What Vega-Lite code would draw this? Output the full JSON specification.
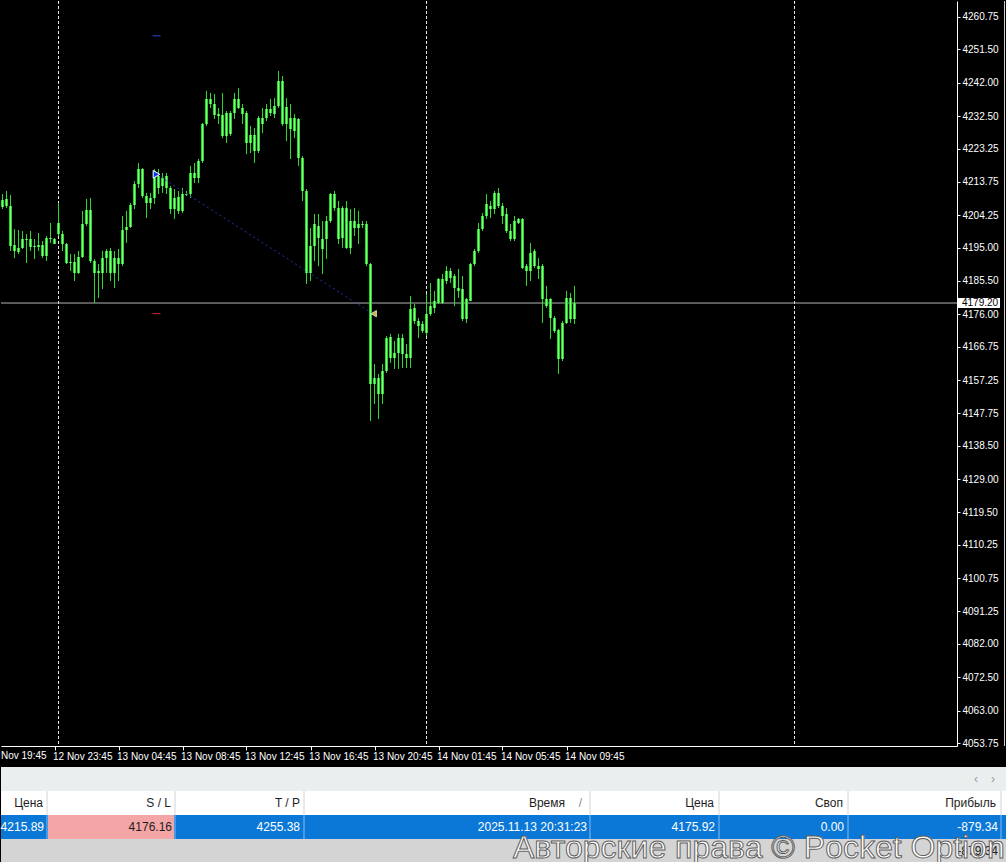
{
  "$schema": "https://vega.github.io/schema/vega-lite/v6.json",
  "background": "#000000",
  "padding": 0,
  "spacing": 6,
  "config": {"view": {"stroke": null}, "font": "Liberation Sans",
    "axis": {"labelFont": "Liberation Sans", "grid": false, "labelColor": "#ffffff", "domainColor": "#ffffff", "tickColor": "#ffffff", "labelFontSize": 10, "labelOverlap": false, "labelBound": false, "labelFlush": false, "labelSeparation": 0}},
  "datasets": {
    "candles": [
      {"bar":0,"o":4208.57,"h":4210.28,"l":4206.01,"c":4206.58},
      {"bar":1,"o":4206.86,"h":4211.14,"l":4206.29,"c":4208.86},
      {"bar":2,"o":4206.86,"h":4210.00,"l":4194.03,"c":4195.46},
      {"bar":3,"o":4195.74,"h":4200.30,"l":4192.03,"c":4194.03},
      {"bar":4,"o":4193.74,"h":4200.02,"l":4193.17,"c":4194.89},
      {"bar":5,"o":4194.89,"h":4199.73,"l":4194.60,"c":4197.45},
      {"bar":6,"o":4197.45,"h":4198.88,"l":4190.61,"c":4197.17},
      {"bar":7,"o":4197.45,"h":4199.73,"l":4194.03,"c":4195.17},
      {"bar":8,"o":4195.46,"h":4197.45,"l":4191.75,"c":4195.17},
      {"bar":9,"o":4195.17,"h":4199.16,"l":4194.03,"c":4195.74},
      {"bar":10,"o":4195.74,"h":4196.88,"l":4192.03,"c":4192.60},
      {"bar":11,"o":4192.60,"h":4198.31,"l":4191.18,"c":4197.74},
      {"bar":12,"o":4197.74,"h":4202.01,"l":4196.31,"c":4197.45},
      {"bar":13,"o":4197.45,"h":4197.74,"l":4196.03,"c":4196.03},
      {"bar":14,"o":4198.88,"h":4207.72,"l":4198.31,"c":4202.01},
      {"bar":15,"o":4198.88,"h":4199.73,"l":4194.03,"c":4196.03},
      {"bar":16,"o":4196.03,"h":4196.31,"l":4190.32,"c":4190.61},
      {"bar":17,"o":4190.89,"h":4193.17,"l":4188.33,"c":4190.61},
      {"bar":18,"o":4190.89,"h":4193.17,"l":4185.48,"c":4187.76},
      {"bar":19,"o":4187.76,"h":4194.03,"l":4187.47,"c":4192.32},
      {"bar":20,"o":4192.32,"h":4205.43,"l":4192.03,"c":4201.73},
      {"bar":21,"o":4201.73,"h":4208.86,"l":4201.16,"c":4205.72},
      {"bar":22,"o":4205.72,"h":4209.14,"l":4190.61,"c":4191.18},
      {"bar":23,"o":4191.18,"h":4191.75,"l":4179.20,"c":4187.76},
      {"bar":24,"o":4187.76,"h":4190.32,"l":4180.63,"c":4188.33},
      {"bar":25,"o":4187.76,"h":4194.03,"l":4183.20,"c":4192.03},
      {"bar":26,"o":4192.03,"h":4194.60,"l":4187.76,"c":4194.03},
      {"bar":27,"o":4194.03,"h":4194.89,"l":4185.48,"c":4187.76},
      {"bar":28,"o":4187.76,"h":4194.03,"l":4183.48,"c":4192.03},
      {"bar":29,"o":4192.03,"h":4194.60,"l":4185.48,"c":4190.32},
      {"bar":30,"o":4190.32,"h":4204.01,"l":4189.75,"c":4200.02},
      {"bar":31,"o":4200.02,"h":4205.43,"l":4196.31,"c":4200.87},
      {"bar":32,"o":4200.87,"h":4207.72,"l":4200.59,"c":4207.15},
      {"bar":33,"o":4207.15,"h":4213.99,"l":4206.01,"c":4213.13},
      {"bar":34,"o":4213.13,"h":4219.12,"l":4211.99,"c":4217.41},
      {"bar":35,"o":4217.41,"h":4217.69,"l":4209.14,"c":4209.71},
      {"bar":36,"o":4209.71,"h":4210.57,"l":4203.44,"c":4207.72},
      {"bar":37,"o":4207.72,"h":4210.57,"l":4206.01,"c":4209.14},
      {"bar":38,"o":4209.14,"h":4217.41,"l":4207.43,"c":4216.84},
      {"bar":39,"o":4215.41,"h":4217.41,"l":4210.28,"c":4211.99},
      {"bar":40,"o":4212.56,"h":4216.27,"l":4210.57,"c":4214.84},
      {"bar":41,"o":4215.41,"h":4216.27,"l":4210.28,"c":4211.99},
      {"bar":42,"o":4211.99,"h":4212.56,"l":4204.58,"c":4206.01},
      {"bar":43,"o":4206.01,"h":4211.71,"l":4203.15,"c":4209.14},
      {"bar":44,"o":4209.43,"h":4211.14,"l":4204.58,"c":4205.43},
      {"bar":45,"o":4205.43,"h":4211.99,"l":4204.86,"c":4210.28},
      {"bar":46,"o":4210.28,"h":4211.14,"l":4209.71,"c":4210.00},
      {"bar":47,"o":4210.28,"h":4218.27,"l":4209.14,"c":4216.27},
      {"bar":48,"o":4216.27,"h":4219.12,"l":4213.42,"c":4214.84},
      {"bar":49,"o":4214.84,"h":4220.26,"l":4213.42,"c":4219.69},
      {"bar":50,"o":4219.69,"h":4230.53,"l":4219.12,"c":4230.24},
      {"bar":51,"o":4230.24,"h":4239.65,"l":4229.67,"c":4237.37},
      {"bar":52,"o":4237.37,"h":4239.08,"l":4234.80,"c":4235.94},
      {"bar":53,"o":4235.94,"h":4238.79,"l":4231.67,"c":4232.81},
      {"bar":54,"o":4233.09,"h":4234.80,"l":4230.24,"c":4232.52},
      {"bar":55,"o":4232.81,"h":4239.08,"l":4226.25,"c":4226.82},
      {"bar":56,"o":4226.82,"h":4233.95,"l":4224.82,"c":4233.38},
      {"bar":57,"o":4233.38,"h":4233.95,"l":4226.82,"c":4227.39},
      {"bar":58,"o":4233.38,"h":4239.08,"l":4231.67,"c":4237.37},
      {"bar":59,"o":4237.37,"h":4240.50,"l":4234.52,"c":4234.80},
      {"bar":60,"o":4234.80,"h":4235.94,"l":4230.24,"c":4233.09},
      {"bar":61,"o":4233.38,"h":4233.95,"l":4221.69,"c":4224.82},
      {"bar":62,"o":4224.82,"h":4229.67,"l":4221.97,"c":4227.10},
      {"bar":63,"o":4227.10,"h":4229.10,"l":4219.12,"c":4222.54},
      {"bar":64,"o":4222.54,"h":4232.52,"l":4221.97,"c":4231.95},
      {"bar":65,"o":4231.95,"h":4234.80,"l":4227.67,"c":4230.24},
      {"bar":66,"o":4231.95,"h":4235.94,"l":4231.10,"c":4234.52},
      {"bar":67,"o":4234.52,"h":4237.37,"l":4232.52,"c":4233.38},
      {"bar":68,"o":4233.09,"h":4237.65,"l":4231.95,"c":4235.37},
      {"bar":69,"o":4235.37,"h":4245.35,"l":4234.80,"c":4242.50},
      {"bar":70,"o":4242.50,"h":4243.93,"l":4229.67,"c":4230.24},
      {"bar":71,"o":4230.24,"h":4237.65,"l":4225.39,"c":4235.09},
      {"bar":72,"o":4231.95,"h":4235.94,"l":4220.26,"c":4228.81},
      {"bar":73,"o":4228.24,"h":4233.09,"l":4226.25,"c":4231.95},
      {"bar":74,"o":4231.67,"h":4231.95,"l":4218.27,"c":4220.55},
      {"bar":75,"o":4220.55,"h":4221.12,"l":4208.29,"c":4211.14},
      {"bar":76,"o":4211.14,"h":4211.71,"l":4184.62,"c":4187.76},
      {"bar":77,"o":4187.76,"h":4200.59,"l":4185.48,"c":4195.46},
      {"bar":78,"o":4195.46,"h":4204.58,"l":4191.18,"c":4201.73},
      {"bar":79,"o":4201.16,"h":4204.58,"l":4189.75,"c":4197.74},
      {"bar":80,"o":4197.45,"h":4202.58,"l":4187.47,"c":4194.60},
      {"bar":81,"o":4197.45,"h":4204.01,"l":4191.75,"c":4202.58},
      {"bar":82,"o":4202.58,"h":4210.57,"l":4202.01,"c":4210.28},
      {"bar":83,"o":4210.28,"h":4211.14,"l":4205.43,"c":4206.29},
      {"bar":84,"o":4206.29,"h":4208.29,"l":4196.03,"c":4197.45},
      {"bar":85,"o":4197.74,"h":4206.86,"l":4194.89,"c":4206.29},
      {"bar":86,"o":4206.29,"h":4208.29,"l":4194.60,"c":4194.89},
      {"bar":87,"o":4194.89,"h":4206.01,"l":4193.17,"c":4202.58},
      {"bar":88,"o":4202.58,"h":4206.29,"l":4198.31,"c":4200.59},
      {"bar":89,"o":4200.59,"h":4205.43,"l":4196.03,"c":4201.73},
      {"bar":90,"o":4201.73,"h":4202.58,"l":4200.59,"c":4201.44},
      {"bar":91,"o":4201.73,"h":4202.58,"l":4189.75,"c":4190.32},
      {"bar":92,"o":4190.32,"h":4190.61,"l":4145.56,"c":4156.11},
      {"bar":93,"o":4156.11,"h":4161.81,"l":4150.41,"c":4157.82},
      {"bar":94,"o":4157.82,"h":4158.96,"l":4146.13,"c":4153.26},
      {"bar":95,"o":4153.26,"h":4161.81,"l":4150.41,"c":4159.82},
      {"bar":96,"o":4159.82,"h":4169.79,"l":4159.25,"c":4169.22},
      {"bar":97,"o":4169.51,"h":4170.37,"l":4162.10,"c":4163.52},
      {"bar":98,"o":4163.52,"h":4168.37,"l":4160.39,"c":4164.95},
      {"bar":99,"o":4164.95,"h":4170.37,"l":4160.39,"c":4169.22},
      {"bar":100,"o":4169.22,"h":4170.37,"l":4160.67,"c":4164.66},
      {"bar":101,"o":4164.66,"h":4167.51,"l":4160.67,"c":4163.52},
      {"bar":102,"o":4163.52,"h":4181.20,"l":4160.67,"c":4177.49},
      {"bar":103,"o":4177.78,"h":4178.92,"l":4173.22,"c":4174.07},
      {"bar":104,"o":4174.07,"h":4174.93,"l":4169.22,"c":4172.65},
      {"bar":105,"o":4173.22,"h":4174.07,"l":4170.65,"c":4171.22},
      {"bar":106,"o":4170.65,"h":4181.77,"l":4169.79,"c":4176.07},
      {"bar":107,"o":4176.07,"h":4184.91,"l":4175.50,"c":4178.35},
      {"bar":108,"o":4177.78,"h":4182.63,"l":4176.35,"c":4179.77},
      {"bar":109,"o":4179.20,"h":4186.33,"l":4178.92,"c":4186.05},
      {"bar":110,"o":4186.05,"h":4187.47,"l":4178.92,"c":4179.20},
      {"bar":111,"o":4185.48,"h":4189.75,"l":4184.62,"c":4188.33},
      {"bar":112,"o":4188.33,"h":4189.18,"l":4184.91,"c":4186.33},
      {"bar":113,"o":4186.90,"h":4187.47,"l":4178.35,"c":4183.48},
      {"bar":114,"o":4183.48,"h":4188.90,"l":4180.63,"c":4182.63},
      {"bar":115,"o":4183.20,"h":4186.90,"l":4174.07,"c":4174.64},
      {"bar":116,"o":4174.64,"h":4180.63,"l":4173.50,"c":4180.34},
      {"bar":117,"o":4179.77,"h":4190.61,"l":4179.77,"c":4190.32},
      {"bar":118,"o":4190.32,"h":4194.60,"l":4189.75,"c":4194.03},
      {"bar":119,"o":4194.03,"h":4202.01,"l":4193.46,"c":4200.30},
      {"bar":120,"o":4200.30,"h":4204.86,"l":4199.73,"c":4204.01},
      {"bar":121,"o":4204.01,"h":4210.28,"l":4203.15,"c":4207.43},
      {"bar":122,"o":4206.86,"h":4208.29,"l":4203.44,"c":4206.01},
      {"bar":123,"o":4206.01,"h":4211.14,"l":4204.58,"c":4210.57},
      {"bar":124,"o":4210.57,"h":4211.99,"l":4206.29,"c":4206.86},
      {"bar":125,"o":4206.86,"h":4207.72,"l":4201.73,"c":4204.01},
      {"bar":126,"o":4204.58,"h":4206.29,"l":4199.16,"c":4199.73},
      {"bar":127,"o":4199.73,"h":4201.73,"l":4196.88,"c":4197.45},
      {"bar":128,"o":4197.45,"h":4204.01,"l":4196.88,"c":4202.58},
      {"bar":129,"o":4202.01,"h":4203.44,"l":4201.73,"c":4203.15},
      {"bar":130,"o":4203.15,"h":4203.44,"l":4188.90,"c":4189.18},
      {"bar":131,"o":4189.75,"h":4190.32,"l":4184.05,"c":4188.33},
      {"bar":132,"o":4188.33,"h":4196.31,"l":4185.48,"c":4193.46},
      {"bar":133,"o":4194.03,"h":4194.60,"l":4189.18,"c":4189.75},
      {"bar":134,"o":4189.75,"h":4192.03,"l":4186.05,"c":4188.90},
      {"bar":135,"o":4189.75,"h":4190.32,"l":4173.50,"c":4180.34},
      {"bar":136,"o":4180.34,"h":4184.05,"l":4177.78,"c":4178.35},
      {"bar":137,"o":4180.34,"h":4180.63,"l":4168.94,"c":4174.93},
      {"bar":138,"o":4174.93,"h":4175.50,"l":4170.65,"c":4171.22},
      {"bar":139,"o":4171.51,"h":4171.79,"l":4158.96,"c":4163.24},
      {"bar":140,"o":4163.24,"h":4174.07,"l":4162.67,"c":4173.50},
      {"bar":141,"o":4173.50,"h":4182.63,"l":4173.22,"c":4180.63},
      {"bar":142,"o":4180.63,"h":4182.06,"l":4173.50,"c":4174.64},
      {"bar":143,"o":4174.64,"h":4184.05,"l":4173.22,"c":4179.20}
    ],
    "tableRows": [
      {"row":"tabs","left":0,"right":1006,"role":"tabs"},
      {"row":"header","left":0,"right":1006,"role":"header"},
      {"row":"position","left":0,"right":1006,"role":"selected"},
      {"row":"position","left":47,"right":173,"role":"sl"},
      {"row":"total","left":0,"right":1006,"role":"total"}
    ],
    "tableEdges": [
      {"row":"header","edge":46,"role":"header"},
      {"row":"header","edge":174,"role":"header"},
      {"row":"header","edge":303,"role":"header"},
      {"row":"header","edge":589,"role":"header"},
      {"row":"header","edge":718,"role":"header"},
      {"row":"header","edge":847,"role":"header"},
      {"row":"header","edge":1000,"role":"header"},
      {"row":"position","edge":46,"role":"selected"},
      {"row":"position","edge":174,"role":"selected"},
      {"row":"position","edge":303,"role":"selected"},
      {"row":"position","edge":589,"role":"selected"},
      {"row":"position","edge":718,"role":"selected"},
      {"row":"position","edge":847,"role":"selected"},
      {"row":"position","edge":1000,"role":"selected"}
    ],
    "tableText": [
      {"row":"header","right":42,"text":"Цена","role":"header"},
      {"row":"header","right":170,"text":"S / L","role":"header"},
      {"row":"header","right":299,"text":"T / P","role":"header"},
      {"row":"header","right":564,"text":"Время","role":"header"},
      {"row":"header","right":581,"text":"/","role":"sort"},
      {"row":"header","right":713,"text":"Цена","role":"header"},
      {"row":"header","right":842,"text":"Своп","role":"header"},
      {"row":"header","right":995,"text":"Прибыль","role":"header"},
      {"row":"position","right":43,"text":"4215.89","role":"selected"},
      {"row":"position","right":171,"text":"4176.16","role":"sl"},
      {"row":"position","right":299,"text":"4255.38","role":"selected"},
      {"row":"position","right":586,"text":"2025.11.13 20:31:23","role":"selected"},
      {"row":"position","right":714,"text":"4175.92","role":"selected"},
      {"row":"position","right":843,"text":"0.00","role":"selected"},
      {"row":"position","right":997,"text":"-879.34","role":"selected"},
      {"row":"total","right":997,"text":"-879.34","role":"total"}
    ]
  },
  "vconcat": [
    {
      "width": 956,
      "height": 745,
      "layer": [
        {
          "data": {"values": [{"bar": 14}, {"bar": 106}, {"bar": 198}]},
          "mark": {"type": "rule", "color": "#e8e8e8", "strokeWidth": 1, "strokeDash": [3, 2]},
          "encoding": {
            "x": {"field": "bar", "type": "quantitative", "title": null, "scale": {"domain": [-0.375, 238.625], "nice": false, "zero": false, "padding": 0}}
          }
        },
        {
          "data": {"values": [{"price": 4179.20}]},
          "mark": {"type": "rule", "color": "#b4b4b4", "strokeWidth": 1},
          "encoding": {
            "y": {"field": "price", "type": "quantitative", "title": null, "scale": {"domain": [4052.9, 4265.31], "nice": false, "zero": false, "padding": 0}}
          }
        },
        {
          "data": {"name": "candles"},
          "mark": {"type": "rule", "color": "#2ed82e", "strokeWidth": 1},
          "encoding": {
            "x": {"field": "bar", "type": "quantitative", "title": null, "scale": {"domain": [-0.375, 238.625], "nice": false, "zero": false, "padding": 0},
              "axis": {"values": [13, 29, 45, 61, 77, 93, 109, 125, 141], "tickCount": 50,
                "labelExpr": "['12 Nov 23:45','13 Nov 04:45','13 Nov 08:45','13 Nov 12:45','13 Nov 16:45','13 Nov 20:45','14 Nov 01:45','14 Nov 05:45','14 Nov 09:45'][(datum.value-13)/16]",
                "labelAlign": "left", "labelBaseline": "top", "labelColor": "#ffffff", "labelFontSize": 10, "labelPadding": 1, "labelOffset": -2,
                "tickColor": "#ffffff", "tickSize": 4, "domainColor": "#ffffff", "grid": false, "title": null,
                "labelOverlap": false, "labelBound": false, "labelFlush": false}},
            "y": {"field": "l", "type": "quantitative", "title": null, "scale": {"domain": [4052.9, 4265.31], "nice": false, "zero": false, "padding": 0},
              "axis": {"orient": "right", "tickCount": 50,
                "values": [4260.75, 4251.5, 4242, 4232.5, 4223.25, 4213.75, 4204.25, 4195, 4185.5, 4176, 4166.75, 4157.25, 4147.75, 4138.5, 4129, 4119.5, 4110.25, 4100.75, 4091.25, 4082, 4072.5, 4063, 4053.75],
                "format": ".2f", "labelColor": "#ffffff", "labelFontSize": 10, "labelPadding": 2,
                "tickColor": "#ffffff", "tickSize": 3, "domainColor": "#ffffff", "grid": false, "title": null,
                "labelOverlap": false, "labelBound": false, "labelFlush": false}},
            "y2": {"field": "h"}
          }
        },
        {
          "data": {"name": "candles"},
          "mark": {"type": "bar", "width": 3, "color": "#26d626"},
          "encoding": {
            "x": {"field": "bar", "type": "quantitative", "title": null, "scale": {"domain": [-0.375, 238.625], "nice": false, "zero": false, "padding": 0}},
            "y": {"field": "o", "type": "quantitative", "title": null, "scale": {"domain": [4052.9, 4265.31], "nice": false, "zero": false, "padding": 0}},
            "y2": {"field": "c"}
          }
        },
        {
          "data": {"name": "candles"},
          "mark": {"type": "bar", "width": 1, "color": "#8af78a"},
          "encoding": {
            "x": {"field": "bar", "type": "quantitative", "title": null, "scale": {"domain": [-0.375, 238.625], "nice": false, "zero": false, "padding": 0}},
            "y": {"field": "o", "type": "quantitative", "title": null, "scale": {"domain": [4052.9, 4265.31], "nice": false, "zero": false, "padding": 0}},
            "y2": {"field": "c"}
          }
        },
        {
          "data": {"values": [{"bar": 38.5, "price": 4215.89}, {"bar": 92.5, "price": 4176.16}]},
          "mark": {"type": "line", "color": "#2233b8", "strokeWidth": 1, "strokeDash": [2, 3]},
          "encoding": {
            "x": {"field": "bar", "type": "quantitative", "title": null, "scale": {"domain": [-0.375, 238.625], "nice": false, "zero": false, "padding": 0}},
            "y": {"field": "price", "type": "quantitative", "title": null, "scale": {"domain": [4052.9, 4265.31], "nice": false, "zero": false, "padding": 0}}
          }
        },
        {
          "data": {"values": [{"bar": 37.5, "bar2": 39.5, "price": 4255.38, "level": "TP"}, {"bar": 37.5, "bar2": 39.5, "price": 4176.16, "level": "SL"}]},
          "mark": {"type": "rule", "strokeWidth": 1},
          "encoding": {
            "x": {"field": "bar", "type": "quantitative", "title": null, "scale": {"domain": [-0.375, 238.625], "nice": false, "zero": false, "padding": 0}},
            "x2": {"field": "bar2"},
            "y": {"field": "price", "type": "quantitative", "title": null, "scale": {"domain": [4052.9, 4265.31], "nice": false, "zero": false, "padding": 0}},
            "color": {"field": "level", "type": "nominal", "scale": {"domain": ["TP", "SL"], "range": ["#2a48d8", "#d42a2a"]}, "legend": null}
          }
        },
        {
          "data": {"values": [{"bar": 38.5, "price": 4215.89}]},
          "mark": {"type": "point", "shape": "triangle-right", "filled": true, "size": 60, "fill": "#1236ff", "stroke": "#ffffff", "strokeWidth": 1, "opacity": 1},
          "encoding": {
            "x": {"field": "bar", "type": "quantitative", "title": null, "scale": {"domain": [-0.375, 238.625], "nice": false, "zero": false, "padding": 0}},
            "y": {"field": "price", "type": "quantitative", "title": null, "scale": {"domain": [4052.9, 4265.31], "nice": false, "zero": false, "padding": 0}}
          }
        },
        {
          "data": {"values": [{"bar": 92.8, "price": 4176.16}]},
          "mark": {"type": "point", "shape": "triangle-left", "filled": true, "size": 40, "fill": "#c9b25e", "stroke": "#f3e9b8", "strokeWidth": 0.8, "opacity": 1},
          "encoding": {
            "x": {"field": "bar", "type": "quantitative", "title": null, "scale": {"domain": [-0.375, 238.625], "nice": false, "zero": false, "padding": 0}},
            "y": {"field": "price", "type": "quantitative", "title": null, "scale": {"domain": [4052.9, 4265.31], "nice": false, "zero": false, "padding": 0}}
          }
        },
        {
          "data": {"values": [{"bar": 238.875, "bar2": 249.375, "top": 4180.63, "bottom": 4177.77}]},
          "mark": {"type": "rect", "color": "#ffffff"},
          "encoding": {
            "x": {"field": "bar", "type": "quantitative", "title": null, "scale": {"domain": [-0.375, 238.625], "nice": false, "zero": false, "padding": 0}},
            "x2": {"field": "bar2"},
            "y": {"field": "top", "type": "quantitative", "title": null, "scale": {"domain": [4052.9, 4265.31], "nice": false, "zero": false, "padding": 0}},
            "y2": {"field": "bottom"}
          }
        },
        {
          "data": {"values": [{"bar": 239.875, "price": 4179.20, "label": "4179.20"}]},
          "mark": {"type": "text", "align": "left", "baseline": "middle", "fontSize": 10, "color": "#000000"},
          "encoding": {
            "x": {"field": "bar", "type": "quantitative", "title": null, "scale": {"domain": [-0.375, 238.625], "nice": false, "zero": false, "padding": 0}},
            "y": {"field": "price", "type": "quantitative", "title": null, "scale": {"domain": [4052.9, 4265.31], "nice": false, "zero": false, "padding": 0}},
            "text": {"field": "label"}
          }
        },
        {
          "data": {"values": [{"bar": -0.375, "price": 4052.9, "label": "Nov 19:45"}]},
          "mark": {"type": "text", "align": "left", "baseline": "top", "dy": 5, "fontSize": 10, "color": "#ffffff"},
          "encoding": {
            "x": {"field": "bar", "type": "quantitative", "title": null, "scale": {"domain": [-0.375, 238.625], "nice": false, "zero": false, "padding": 0}},
            "y": {"field": "price", "type": "quantitative", "title": null, "scale": {"domain": [4052.9, 4265.31], "nice": false, "zero": false, "padding": 0}},
            "text": {"field": "label"}
          }
        },
        {
          "data": {"values": [{"bar": 250.5}]},
          "mark": {"type": "rule", "color": "#cfcfcf", "strokeWidth": 1},
          "encoding": {
            "x": {"field": "bar", "type": "quantitative", "title": null, "scale": {"domain": [-0.375, 238.625], "nice": false, "zero": false, "padding": 0}}
          }
        }
      ]
    },
    {
      "width": 1006,
      "height": 96,
      "resolve": {"scale": {"color": "independent"}},
      "layer": [
        {
          "data": {"name": "tableRows"},
          "mark": {"type": "rect"},
          "encoding": {
            "x": {"field": "left", "type": "quantitative", "scale": {"domain": [0, 1006], "nice": false, "zero": false, "padding": 0}, "axis": null},
            "x2": {"field": "right"},
            "y": {"field": "row", "type": "nominal", "scale": {"type": "band", "domain": ["tabs", "header", "position", "total"], "paddingInner": 0, "paddingOuter": 0}, "axis": null},
            "color": {"field": "role", "type": "nominal", "scale": {"domain": ["tabs", "header", "selected", "sl", "total"], "range": ["#e9efee", "#ffffff", "#0b78d7", "#f4a6a6", "#d4d4d4"]}, "legend": null}
          }
        },
        {
          "data": {"name": "tableEdges"},
          "mark": {"type": "rect", "strokeWidth": 1, "fillOpacity": 0},
          "encoding": {
            "x": {"field": "edge", "type": "quantitative", "scale": {"domain": [0, 1006], "nice": false, "zero": false, "padding": 0}, "axis": null},
            "x2": {"field": "edge"},
            "y": {"field": "row", "type": "nominal", "scale": {"type": "band", "domain": ["tabs", "header", "position", "total"], "paddingInner": 0, "paddingOuter": 0}, "axis": null},
            "stroke": {"field": "role", "type": "nominal", "scale": {"domain": ["header", "selected"], "range": ["#e2e2e2", "#5aa6e8"]}, "legend": null}
          }
        },
        {
          "data": {"name": "tableText"},
          "mark": {"type": "text", "align": "right", "baseline": "middle", "fontSize": 12},
          "encoding": {
            "x": {"field": "right", "type": "quantitative", "scale": {"domain": [0, 1006], "nice": false, "zero": false, "padding": 0}, "axis": null},
            "y": {"field": "row", "type": "nominal", "scale": {"type": "band", "domain": ["tabs", "header", "position", "total"], "paddingInner": 0, "paddingOuter": 0}, "axis": null},
            "text": {"field": "text"},
            "color": {"field": "role", "type": "nominal", "scale": {"domain": ["header", "sort", "selected", "sl", "total"], "range": ["#1e1e1e", "#8c8c8c", "#ffffff", "#1e1e1e", "#1e1e1e"]}, "legend": null}
          }
        },
        {
          "data": {"values": [{"row": "tabs", "pos": 975, "text": "‹"}, {"row": "tabs", "pos": 992, "text": "›"}]},
          "mark": {"type": "text", "align": "center", "baseline": "middle", "fontSize": 12, "color": "#9a9a9a"},
          "encoding": {
            "x": {"field": "pos", "type": "quantitative", "scale": {"domain": [0, 1006], "nice": false, "zero": false, "padding": 0}, "axis": null},
            "y": {"field": "row", "type": "nominal", "scale": {"type": "band", "domain": ["tabs", "header", "position", "total"], "paddingInner": 0, "paddingOuter": 0}, "axis": null},
            "text": {"field": "text"}
          }
        },
        {
          "data": {"values": [{"row": "total", "pos": 512, "text": "Авторские права © Pocket Option"}]},
          "mark": {"type": "text", "align": "left", "baseline": "middle", "fontSize": 32, "fill": "#ffffff", "stroke": "#5e5e5e", "strokeWidth": 1, "dy": -3, "clip": true},
          "encoding": {
            "x": {"field": "pos", "type": "quantitative", "scale": {"domain": [0, 1006], "nice": false, "zero": false, "padding": 0}, "axis": null},
            "y": {"field": "row", "type": "nominal", "scale": {"type": "band", "domain": ["tabs", "header", "position", "total"], "paddingInner": 0, "paddingOuter": 0}, "axis": null},
            "text": {"field": "text"}
          }
        }
      ]
    }
  ]
}
